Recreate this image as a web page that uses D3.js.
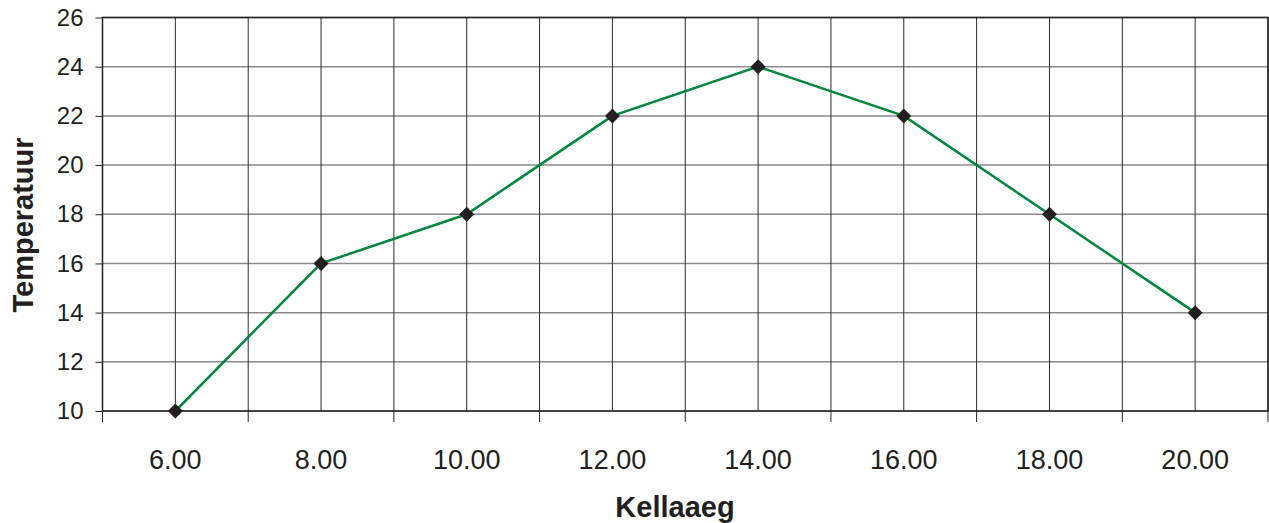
<!DOCTYPE html>
<html>
<head>
<meta charset="utf-8">
<script src="https://d3js.org/d3.v7.min.js"></script>
<style>
body { margin: 0; background: #fff; font-family: "Liberation Sans", Arial, Helvetica, sans-serif; }
</style>
</head>
<body>
<div id="chart"></div>
<script>
// data
var hours = ["6.00", "8.00", "10.00", "12.00", "14.00", "16.00", "18.00", "20.00"];
var temps = [10, 16, 18, 22, 24, 22, 18, 14];
var yTicks = [10, 12, 14, 16, 18, 20, 22, 24, 26];

var W = 1269, H = 523;
var margin = {top: 17.5, right: 1, bottom: 112, left: 102.5};
var width = W - margin.left - margin.right,
    height = H - margin.top - margin.bottom;

var svg = d3.select("#chart").append("svg")
    .attr("width", W).attr("height", H);
var g = svg.append("g")
    .attr("transform", "translate(" + margin.left + "," + margin.top + ")");

var x = d3.scaleBand().domain(hours).range([0, width]).padding(0);
var y = d3.scaleLinear().domain([10, 26]).range([height, 0]);
var cx = function(d) { return x(d) + x.bandwidth() / 2; };

// horizontal grid
g.selectAll(".hgrid").data(yTicks).enter().append("line")
    .attr("x1", 0).attr("x2", width)
    .attr("y1", function(d) { return y(d); })
    .attr("y2", function(d) { return y(d); })
    .attr("stroke", "#8a8a8a").attr("stroke-width", 1.5);

// vertical grid: band edges and band centres
var vlines = [];
hours.forEach(function(h) { vlines.push(x(h)); vlines.push(cx(h)); });
vlines.push(width);
g.selectAll(".vgrid").data(vlines).enter().append("line")
    .attr("x1", function(d) { return d; }).attr("x2", function(d) { return d; })
    .attr("y1", 0).attr("y2", height)
    .attr("stroke", "#2a2a2a").attr("stroke-width", 1);

// plot border
g.append("rect").attr("x", 0).attr("y", 0)
    .attr("width", width).attr("height", height)
    .attr("fill", "none").attr("stroke", "#222").attr("stroke-width", 1.5);

// y axis
var yAxis = g.append("g")
    .call(d3.axisLeft(y).tickValues(yTicks).tickSize(7).tickPadding(12));
yAxis.select(".domain").remove();
yAxis.selectAll("line").attr("stroke", "#222");
yAxis.selectAll("text")
    .style("font-family", "'Liberation Sans', Arial, sans-serif")
    .style("font-size", "24px").attr("fill", "#231f20");

// x axis: ticks at band edges, labels at centres
var edges = hours.map(function(h) { return x(h); }).concat([width]);
g.selectAll(".xtick").data(edges).enter().append("line")
    .attr("x1", function(d) { return d; }).attr("x2", function(d) { return d; })
    .attr("y1", height).attr("y2", height + 11)
    .attr("stroke", "#222").attr("stroke-width", 1);
g.selectAll(".xlabel").data(hours).enter().append("text")
    .attr("x", function(d) { return cx(d); })
    .attr("y", height + 58)
    .attr("text-anchor", "middle")
    .style("font-size", "27px").attr("fill", "#231f20")
    .text(function(d) { return d; });

// line
var pts = hours.map(function(h, i) { return {h: h, v: temps[i]}; });
g.append("path").datum(pts)
    .attr("d", d3.line().x(function(d) { return cx(d.h); }).y(function(d) { return y(d.v); }))
    .attr("fill", "none").attr("stroke", "#00873d").attr("stroke-width", 2.5);

// diamond markers
g.selectAll(".dot").data(pts).enter().append("path")
    .attr("transform", function(d) { return "translate(" + cx(d.h) + "," + y(d.v) + ")"; })
    .attr("d", "M0,-7.5L7.5,0L0,7.5L-7.5,0Z")
    .attr("fill", "#231f20");

// axis titles
svg.append("text")
    .attr("x", 675).attr("y", 517)
    .attr("text-anchor", "middle")
    .style("font-size", "29px").style("font-weight", "bold").attr("fill", "#231f20")
    .text("Kellaaeg");
svg.append("text")
    .attr("transform", "translate(33,225) rotate(-90)")
    .attr("text-anchor", "middle")
    .style("font-size", "29px").style("font-weight", "bold").attr("fill", "#231f20")
    .text("Temperatuur");
</script>
</body>
</html>
